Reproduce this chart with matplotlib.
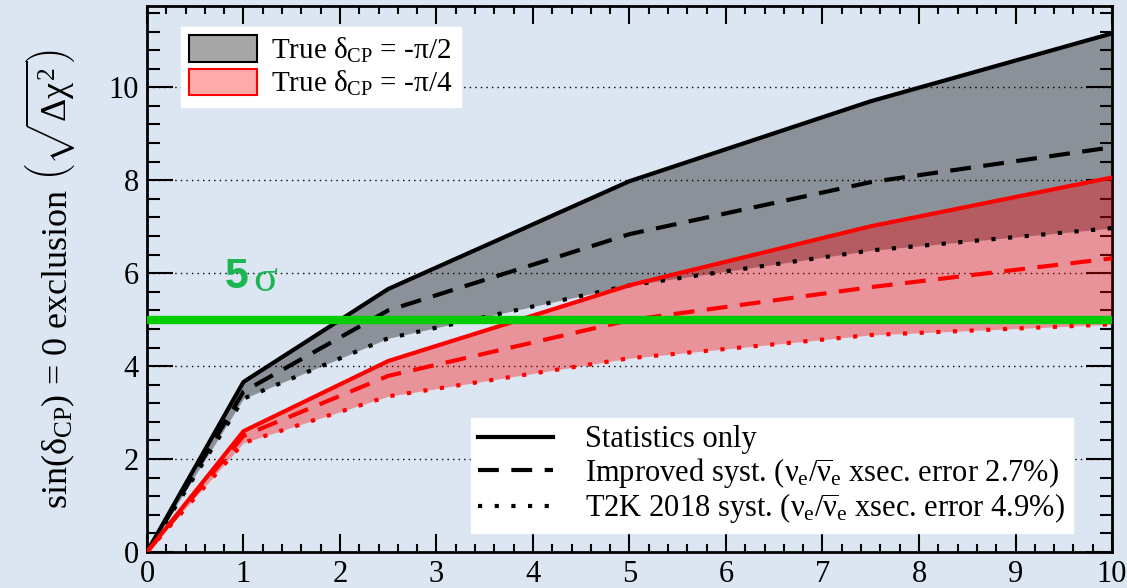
import matplotlib
matplotlib.use("Agg")
import matplotlib.pyplot as plt
from matplotlib.patches import Patch
from matplotlib.lines import Line2D
from matplotlib.ticker import MultipleLocator

plt.rcParams['font.family'] = ['Liberation Serif', 'DejaVu Serif']
# upright greek letters like the ROOT original
plt.rcParams['mathtext.fontset'] = 'custom'
plt.rcParams['mathtext.rm'] = 'Liberation Serif'
plt.rcParams['mathtext.it'] = 'Liberation Serif'
plt.rcParams['mathtext.bf'] = 'Liberation Serif:bold'

BG = '#dce6f2'

# exposure points and significance curves
pot = [0, 1, 2.5, 5, 7.5, 10]
pi2_stat = [0, 3.66, 5.66, 7.98, 9.70, 11.16]
pi2_impr = [0, 3.45, 5.20, 6.84, 7.96, 8.71]
pi2_t2k = [0, 3.30, 4.60, 5.74, 6.49, 6.97]
pi4_stat = [0, 2.60, 4.11, 5.74, 7.01, 8.06]
pi4_impr = [0, 2.50, 3.79, 4.99, 5.70, 6.32]
pi4_t2k = [0, 2.35, 3.35, 4.17, 4.67, 4.90]
five_sigma = 5

fig = plt.figure(figsize=(11.27, 5.88), dpi=100, facecolor=BG)
ax = fig.add_axes([0.1304, 0.0612, 0.8563, 0.9286], facecolor=BG)

# dotted horizontal grid
for yg in [2, 4, 6, 8, 10]:
    ax.axhline(yg, color='black', lw=1.0, ls=(0, (1, 3)), zorder=1)

ax.fill_between(pot, pi2_t2k, pi2_stat, color='black', alpha=0.37, lw=0, zorder=2)
ax.fill_between(pot, pi4_t2k, pi4_stat, color='red', alpha=0.36, lw=0, zorder=3)

ax.plot(pot, pi2_stat, color='black', lw=3, zorder=4)
ax.plot(pot, pi2_impr, color='black', lw=3, ls=(0, (5, 3)), zorder=4)
ax.plot(pot, pi2_t2k, color='black', lw=3, ls=(0, (1, 3)), zorder=4)
ax.plot(pot, pi4_stat, color='red', lw=3, zorder=5)
ax.plot(pot, pi4_impr, color='red', lw=3, ls=(0, (5, 3)), zorder=5)
ax.plot(pot, pi4_t2k, color='red', lw=3, ls=(0, (1, 3)), zorder=5)

ax.axhline(five_sigma, color='#00cc00', lw=6, zorder=6)
ax.text(0.81, 5.92, '5', color='#1bb552', fontsize=31, fontweight='bold',
        family=['Liberation Sans', 'DejaVu Sans'], va='center', ha='left')
ax.text(1.10, 5.85, 'σ', color='#1bb552', fontsize=32, va='center', ha='left')

ax.set_xlim(0, 10)
ax.set_ylim(0, 11.75)
ax.xaxis.set_major_locator(MultipleLocator(1))
ax.xaxis.set_minor_locator(MultipleLocator(0.2))
ax.yaxis.set_major_locator(MultipleLocator(2))
ax.yaxis.set_minor_locator(MultipleLocator(0.4))
ax.tick_params(axis='both', which='both', direction='in', top=True, right=True,
               width=1.5, labelsize=22, colors='black')
ax.tick_params(axis='x', which='major', length=13, pad=6)
ax.tick_params(axis='x', which='minor', length=6)
ax.tick_params(axis='y', which='major', length=19, pad=6)
ax.tick_params(axis='y', which='minor', length=9)
for sp in ax.spines.values():
    sp.set_linewidth(2)

ax.set_ylabel(r'sin($\delta_{\mathrm{CP}}$) = 0 exclusion $\left(\sqrt{\Delta\chi^{2}}\right)$',
              fontsize=26, labelpad=22)

h1 = [Patch(facecolor='#a6a6a6', edgecolor='black', lw=1.5),
      Patch(facecolor='#ffaaaa', edgecolor='red', lw=1.5)]
leg1 = ax.legend(h1, [r'True $\delta_{\mathrm{CP}}$ = -$\pi$/2', r'True $\delta_{\mathrm{CP}}$ = -$\pi$/4'],
                 loc='upper left', bbox_to_anchor=(0.035, 0.962), fontsize=21,
                 frameon=True, fancybox=False, framealpha=1, edgecolor='white',
                 handlelength=2.3, handleheight=1.0, borderpad=0.3, labelspacing=0.15,
                 handletextpad=0.5, borderaxespad=0)
leg1.set_zorder(10)
ax.add_artist(leg1)

h2 = [Line2D([], [], color='black', lw=3),
      Line2D([], [], color='black', lw=3, ls=(0, (5, 3))),
      Line2D([], [], color='black', lw=3, ls=(0, (1, 3)))]
lab2 = ['Statistics only',
        r'Improved syst. ($\nu_{\mathrm{e}}/\overline{\nu}_{\mathrm{e}}$ xsec. error 2.7%)',
        r'T2K 2018 syst. ($\nu_{\mathrm{e}}/\overline{\nu}_{\mathrm{e}}$ xsec. error 4.9%)']
leg2 = ax.legend(h2, lab2, loc='lower right', bbox_to_anchor=(0.9595, 0.035), fontsize=22,
                 frameon=True, fancybox=False, framealpha=1, edgecolor='white',
                 handlelength=2.45, borderpad=0.25, labelspacing=0.05,
                 handletextpad=1.05, borderaxespad=0)
leg2.set_zorder(10)

fig.savefig('out.png', dpi=100, facecolor=BG)
